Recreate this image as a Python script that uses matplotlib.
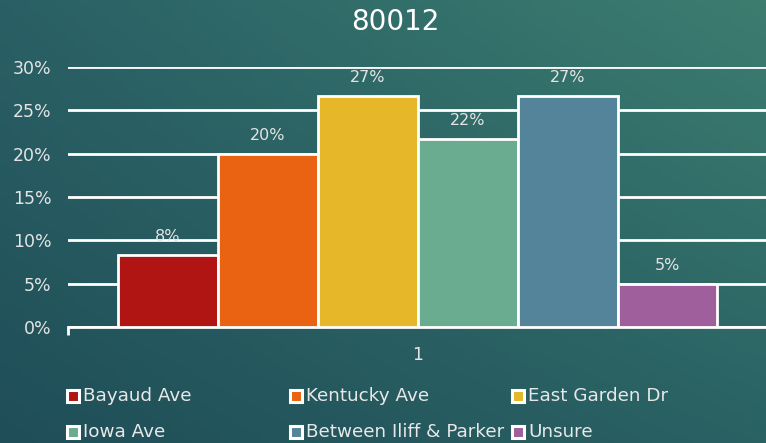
import numpy as np
import matplotlib
matplotlib.use("Agg")
import matplotlib.pyplot as plt
from matplotlib.patches import Rectangle

plt.rcParams['font.family'] = ['DejaVu Sans']

# data
streets = ["Bayaud Ave", "Kentucky Ave", "East Garden Dr",
           "Iowa Ave", "Between Iliff & Parker", "Unsure"]
shares = [8.33, 20.0, 26.67, 21.67, 26.67, 5.0]
share_labels = ["8%", "20%", "27%", "22%", "27%", "5%"]
bar_colors = ["#b01513", "#ea6312", "#e6b729", "#6aac90", "#54849a", "#9e5f9c"]
yticks = [0, 5, 10, 15, 20, 25, 30]

W, H = 766, 443
fig = plt.figure(figsize=(W / 100, H / 100), dpi=100)

# gradient background (teal, darker bottom-left, lighter top-right)
bg = fig.add_axes([0, 0, 1, 1], zorder=-10)
tl = np.array([0x2a, 0x60, 0x65]) / 255
tr = np.array([0x3c, 0x7d, 0x70]) / 255
bl = np.array([0x1f, 0x4e, 0x58]) / 255
br = np.array([0x2a, 0x62, 0x64]) / 255
u = np.linspace(0, 1, 200)[None, :, None]
v = np.linspace(0, 1, 120)[:, None, None]
img = (1 - v) * ((1 - u) * tl + u * tr) + v * ((1 - u) * bl + u * br)
bg.imshow(img, aspect='auto', extent=[0, 1, 0, 1])
bg.axis('off')

ax = fig.add_axes([0.0888, 0.2619, 0.913, 0.5869])
ax.patch.set_alpha(0)

x = np.arange(len(shares)) - 2.5
bars = ax.bar(x, shares, width=1.0, color=bar_colors, edgecolor='white',
              linewidth=2, zorder=3)
for xi, val, lab in zip(x, shares, share_labels):
    ax.annotate(lab, (xi, val), xytext=(0, 8), textcoords='offset points',
                ha='center', va='bottom', color='#e4e4e4', fontsize=11.5,
                clip_on=False)

ax.set_xlim(-3.5, 3.5)
ax.set_ylim(0, 30)
ax.set_yticks(yticks)
ax.set_yticklabels([f"{t}%" for t in yticks])
ax.yaxis.grid(True, color='white', linewidth=2, zorder=0)
ax.tick_params(axis='y', length=0, pad=12, labelsize=12.5, labelcolor='#e4e4e4')

ax.set_xticks([0])
ax.set_xticklabels(["1"])
ax.set_xticks([-3.5, 3.5], minor=True)
ax.tick_params(axis='x', which='major', length=0, pad=14, labelsize=12.5,
               labelcolor='#e4e4e4')
ax.tick_params(axis='x', which='minor', length=6, width=2, color='white')

for s in ['top', 'right', 'left']:
    ax.spines[s].set_visible(False)
ax.spines['bottom'].set_color('white')
ax.spines['bottom'].set_linewidth(2)

fig.text(395 / W, 1 - 22 / H, "80012", ha='center', va='center',
         color='white', fontsize=20)

# legend: 3 equal columns, 2 rows, filled row by row
col_x = [67, 290, 512]
row_y = [396, 432]
box = 12
for i, (name, c) in enumerate(zip(streets, bar_colors)):
    px = col_x[i % 3]
    py = row_y[i // 3]
    fig.patches.append(Rectangle(((px) / W, 1 - (py + box / 2) / H),
                                 box / W, box / H, transform=fig.transFigure,
                                 facecolor=c, edgecolor='white', linewidth=2.2))
    fig.text((px + box + 4) / W, 1 - py / H, name, ha='left', va='center',
             color='#e8e8e8', fontsize=13.2)

fig.savefig("out.png", dpi=100)
